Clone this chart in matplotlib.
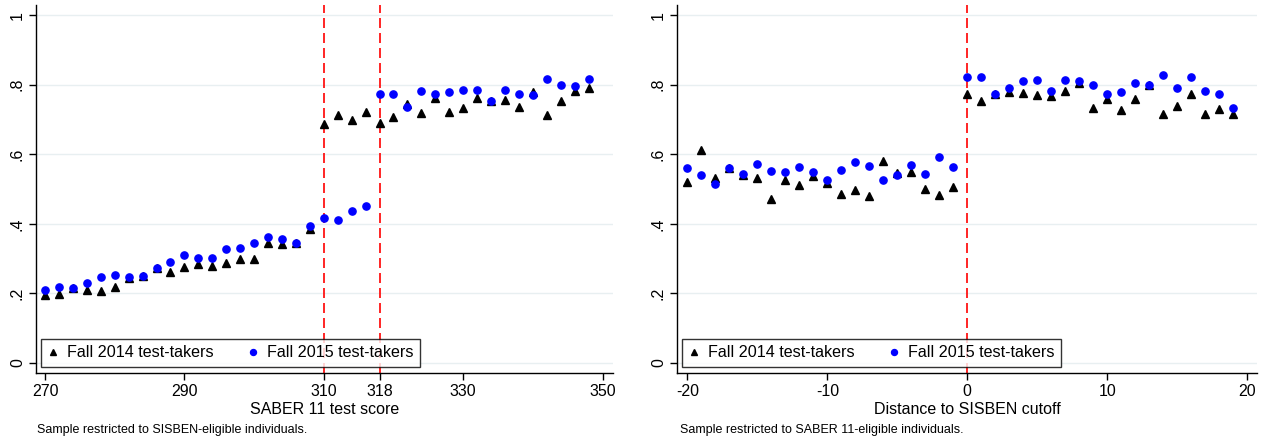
import numpy as np
import matplotlib
matplotlib.use("Agg")
import matplotlib.pyplot as plt
from matplotlib.lines import Line2D

plt.rcParams['font.family'] = ['Liberation Sans', 'DejaVu Sans']

# ---- Left panel data: SABER 11 test score ----
score_x = list(range(270, 350, 2))
score_2014 = [0.196, 0.198, 0.214, 0.210, 0.207, 0.218, 0.245, 0.251, 0.272, 0.260,
              0.277, 0.284, 0.279, 0.286, 0.298, 0.298, 0.344, 0.341, 0.346, 0.385,
              0.687, 0.714, 0.697, 0.720, 0.691, 0.706, 0.744, 0.718, 0.763, 0.721,
              0.734, 0.763, 0.752, 0.757, 0.737, 0.780, 0.714, 0.753, 0.781, 0.790]
score_2015 = [0.210, 0.219, 0.214, 0.231, 0.246, 0.252, 0.246, 0.251, 0.273, 0.290,
              0.311, 0.302, 0.302, 0.327, 0.329, 0.346, 0.362, 0.355, 0.346, 0.395,
              0.418, 0.411, 0.437, 0.451, 0.773, 0.773, 0.736, 0.783, 0.773, 0.780,
              0.786, 0.784, 0.752, 0.785, 0.772, 0.770, 0.817, 0.798, 0.797, 0.817]
score_cutoffs = [310, 318]
score_ticks = [270, 290, 310, 318, 330, 350]

# ---- Right panel data: distance to SISBEN cutoff ----
dist_x = list(range(-20, 20))
dist_2014 = [0.519, 0.612, 0.531, 0.559, 0.540, 0.532, 0.471, 0.525, 0.511, 0.537,
             0.517, 0.487, 0.498, 0.479, 0.581, 0.547, 0.549, 0.499, 0.484, 0.507,
             0.773, 0.753, 0.772, 0.780, 0.776, 0.771, 0.768, 0.782, 0.804, 0.732,
             0.759, 0.728, 0.760, 0.799, 0.715, 0.738, 0.773, 0.715, 0.730, 0.717]
dist_2015 = [0.560, 0.539, 0.513, 0.560, 0.544, 0.571, 0.552, 0.548, 0.563, 0.548,
             0.527, 0.554, 0.578, 0.567, 0.525, 0.539, 0.569, 0.544, 0.592, 0.563,
             0.823, 0.823, 0.772, 0.790, 0.810, 0.813, 0.782, 0.813, 0.810, 0.800,
             0.773, 0.778, 0.806, 0.800, 0.827, 0.791, 0.821, 0.781, 0.772, 0.734]
dist_cutoffs = [0]
dist_ticks = [-20, -10, 0, 10, 20]

y_ticks = [0, 0.2, 0.4, 0.6, 0.8, 1.0]
y_labels = ['0', '.2', '.4', '.6', '.8', '1']
label_2014 = 'Fall 2014 test-takers'
label_2015 = 'Fall 2015 test-takers'

fig = plt.figure(figsize=(12.69, 4.41), dpi=100)
H = 441.0
W = 1269.0
ax_bottom = 1 - 373 / H
ax_height = (373 - 5) / H
axL = fig.add_axes([36 / W, ax_bottom, (613 - 36) / W, ax_height])
axR = fig.add_axes([677 / W, ax_bottom, (1257 - 677) / W, ax_height])

grid_color = '#e8eff1'


def style(ax, x, y14, y15, cutoffs, xticks, xlim, xlabel):
    ax.set_facecolor('white')
    for yt in y_ticks:
        ax.axhline(yt, color=grid_color, lw=1.0, zorder=0)
    for c in cutoffs:
        ax.axvline(c, color='#ff0000', lw=1.2, ls=(0, (6, 3)), zorder=1)
    ax.plot(x, y14, ls='none', marker='^', ms=5.8, color='black', mec='black', zorder=3)
    ax.plot(x, y15, ls='none', marker='o', ms=5.2, color='#0000ff', mec='#0000ff', zorder=3)
    ax.set_xlim(*xlim)
    ax.set_ylim(-0.029, 1.029)
    ax.set_xticks(xticks)
    ax.set_xticklabels([str(t) for t in xticks], fontsize=11.5)
    ax.set_yticks(y_ticks)
    ax.set_yticklabels(y_labels, fontsize=11.5, rotation=90, va='center')
    for s in ['top', 'right']:
        ax.spines[s].set_visible(False)
    for s in ['left', 'bottom']:
        ax.spines[s].set_linewidth(1.0)
    ax.tick_params(direction='out', length=5, width=1.0, pad=3)
    ax.set_xlabel(xlabel, fontsize=11.5, labelpad=2)
    h1 = Line2D([], [], ls='none', marker='^', ms=4.8, color='black')
    h2 = Line2D([], [], ls='none', marker='o', ms=4.3, color='#0000ff')
    leg = ax.legend([h1, h2], [label_2014, label_2015], loc='lower left',
                    bbox_to_anchor=(0.009, 0.016), ncol=2, fontsize=11.6,
                    frameon=True, fancybox=False, edgecolor='black',
                    handlelength=0.6, handletextpad=0.6, columnspacing=2.1,
                    borderpad=0.42, borderaxespad=0)
    leg.get_frame().set_linewidth(1.0)
    leg.set_zorder(5)


style(axL, score_x, score_2014, score_2015, score_cutoffs, score_ticks,
      (268.7, 351.5), 'SABER 11 test score')
style(axR, dist_x, dist_2014, dist_2015, dist_cutoffs, dist_ticks,
      (-20.74, 20.7), 'Distance to SISBEN cutoff')

fig.text(37 / W, 1 - 430 / H, 'Sample restricted to SISBEN-eligible individuals.',
         fontsize=9.0, va='center', ha='left')
fig.text(680 / W, 1 - 430 / H, 'Sample restricted to SABER 11-eligible individuals.',
         fontsize=9.0, va='center', ha='left')

fig.savefig('out.png', dpi=100)
